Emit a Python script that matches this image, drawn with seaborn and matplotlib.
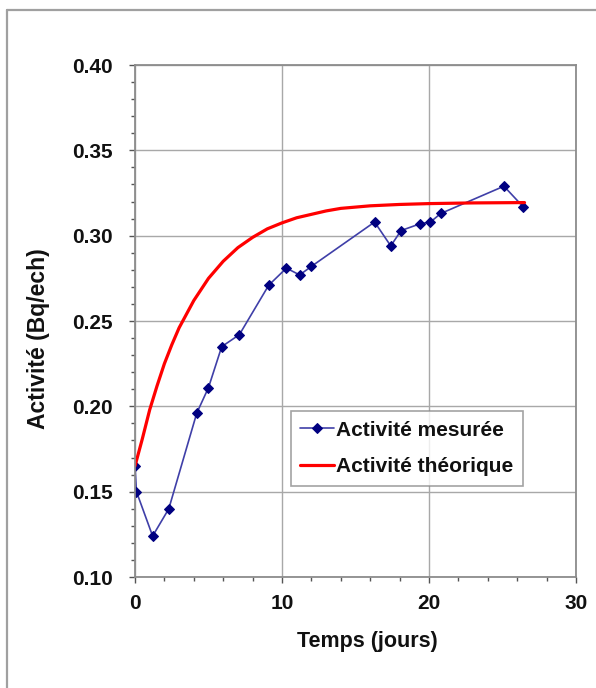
import matplotlib
matplotlib.use("Agg")
import matplotlib.pyplot as plt
from matplotlib.lines import Line2D
from matplotlib.ticker import MultipleLocator, FormatStrFormatter
import pandas as pd
import seaborn as sns

# Measured activity (Bq/ech) over time (days)
t_mes = [0.0, 0.1, 1.2, 2.3, 4.2, 5.0, 5.9, 7.1, 9.1, 10.3, 11.2, 12.0,
         16.3, 17.4, 18.1, 19.4, 20.1, 20.8, 25.1, 26.4]
a_mes = [0.165, 0.150, 0.124, 0.140, 0.196, 0.211, 0.235, 0.242, 0.271, 0.281, 0.277, 0.282,
         0.308, 0.294, 0.303, 0.307, 0.308, 0.313, 0.329, 0.317]

# Theoretical activity curve
t_th = [0, 0.5, 1, 1.5, 2, 2.5, 3, 3.5, 4, 5, 6, 7, 8, 9, 10, 11, 12, 13, 14, 16, 18, 20, 23, 26.5]
a_th = [0.165, 0.181, 0.198, 0.212, 0.225, 0.236, 0.246, 0.254, 0.262, 0.275, 0.285, 0.293,
        0.299, 0.304, 0.3075, 0.3105, 0.3125, 0.3145, 0.316, 0.3175, 0.3183, 0.3188, 0.3192, 0.3194]

lbl_mes = "Activité mesurée"
lbl_th = "Activité théorique"
xlabel = "Temps (jours)"
ylabel = "Activité (Bq/ech)"

df_mes = pd.DataFrame({"t": t_mes, "a": a_mes})
df_th = pd.DataFrame({"t": t_th, "a": a_th})

sns.set_theme(style="white")
plt.rcParams["font.family"] = ["Liberation Sans", "DejaVu Sans"]
plt.rcParams["font.weight"] = "bold"

fig = plt.figure(figsize=(5.96, 6.88), dpi=100)
ax = fig.add_axes([0.2265, 0.1613, 0.7399, 0.7442])

sns.lineplot(data=df_mes, x="t", y="a", ax=ax, color="#3f3fa8", linewidth=1.2,
             marker="D", markersize=5.5, markerfacecolor="#000080",
             markeredgecolor="#000080", label=lbl_mes, sort=False)
sns.lineplot(data=df_th, x="t", y="a", ax=ax, color="#ff0000", linewidth=2.3,
             label=lbl_th, sort=False)

ax.set_xlim(0, 30)
ax.set_ylim(0.10, 0.40)
ax.xaxis.set_major_locator(MultipleLocator(10))
ax.xaxis.set_minor_locator(MultipleLocator(2))
ax.yaxis.set_major_locator(MultipleLocator(0.05))
ax.yaxis.set_minor_locator(MultipleLocator(0.01))
ax.yaxis.set_major_formatter(FormatStrFormatter("%.2f"))

ax.grid(True, which="major", color="#a8a8a8", linewidth=1.0)
for s in ax.spines.values():
    s.set_color("#8c8c8c")
    s.set_linewidth(1.3)

ax.tick_params(axis="both", which="major", direction="out", length=4, width=1,
               color="#555555", labelsize=15, labelcolor="#111111")
ax.tick_params(axis="y", which="major", pad=12)
ax.tick_params(axis="x", which="major", pad=8)
ax.tick_params(axis="both", which="minor", direction="out", length=3, width=1,
               color="#555555")
ax.tick_params(axis="y", which="both", left=True)
ax.tick_params(axis="x", which="both", bottom=True)
for lab in ax.get_xticklabels() + ax.get_yticklabels():
    lab.set_fontweight("bold")

ax.set_xlabel(xlabel, fontsize=15.5, fontweight="bold", color="#111111")
ax.set_ylabel(ylabel, fontsize=16.5, fontweight="bold", color="#111111")
ax.xaxis.set_label_coords(0.526, -0.106)
ax.yaxis.set_label_coords(-0.193, 0.465)

leg = ax.legend(loc="upper left", bbox_to_anchor=(0.354, 0.324), borderaxespad=0,
                frameon=True, fancybox=False, handlelength=1.6, handletextpad=0.1,
                borderpad=0.45, labelspacing=0.85, prop={"weight": "bold", "size": 15})
leg.get_frame().set_edgecolor("#8c8c8c")
leg.get_frame().set_linewidth(1.2)
for txt in leg.get_texts():
    txt.set_color("#111111")

# outer frame lines around the chart area
fig.add_artist(Line2D([7 / 596, 7 / 596], [0, 1 - 10 / 688], transform=fig.transFigure,
                      color="#a0a0a0", linewidth=1.6))
fig.add_artist(Line2D([7 / 596, 1.0], [1 - 10 / 688, 1 - 10 / 688], transform=fig.transFigure,
                      color="#a0a0a0", linewidth=1.6))

fig.savefig("out.png", dpi=100)
